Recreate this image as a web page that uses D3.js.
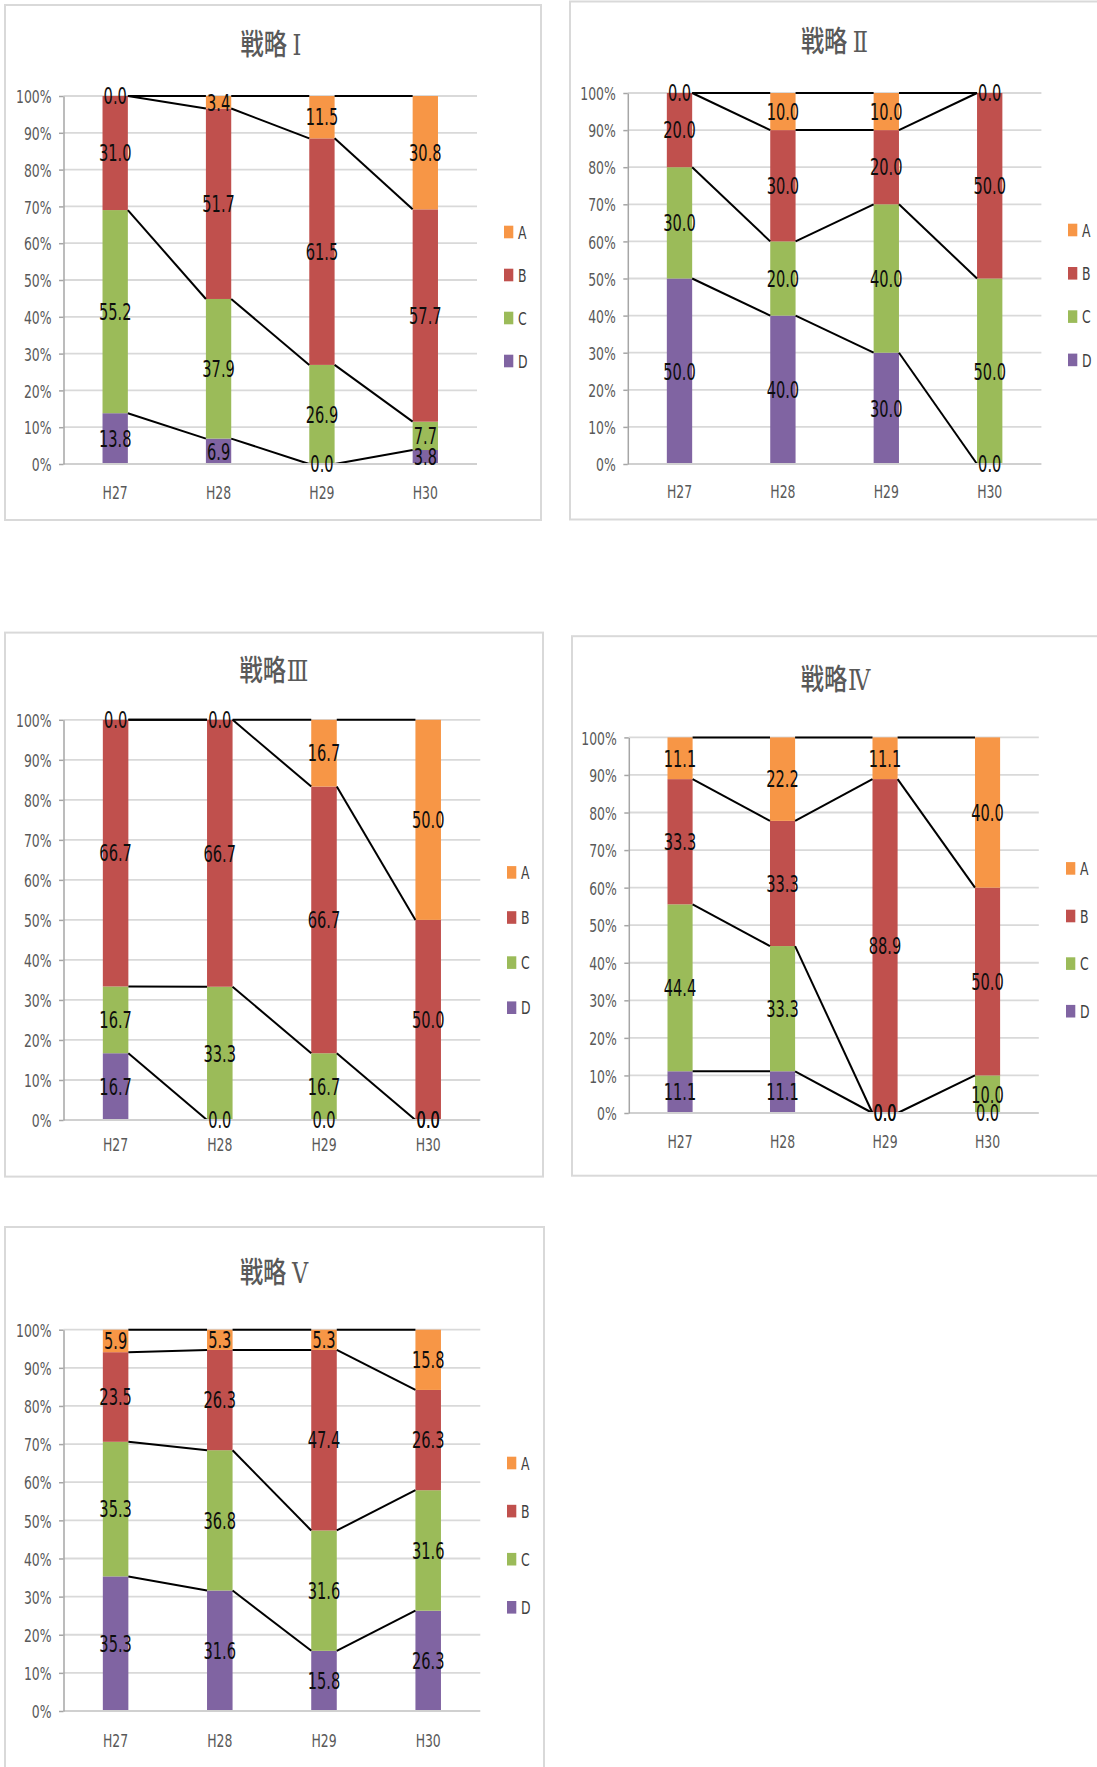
<!DOCTYPE html>
<html lang="ja">
<head>
<meta charset="utf-8">
<script src="https://cdn.jsdelivr.net/npm/d3@7"></script>
<style>
  html, body { margin: 0; padding: 0; background: #fff; }
  svg { display: block; }
</style>
</head>
<body>
<script>
// Page size
const width = 1097;
const height = 1767;

// Categories, series and ticks
const years = ["H27", "H28", "H29", "H30"];
const seriesKeys = ["A", "B", "C", "D"];
const chartTitles = ["戦略Ⅰ", "戦略Ⅱ", "戦略Ⅲ", "戦略Ⅳ", "戦略Ⅴ"];
const yTicks = [0, 0.1, 0.2, 0.3, 0.4, 0.5, 0.6, 0.7, 0.8, 0.9, 1];

// 戦略Ⅰ
const s1A = [0.0, 3.4, 11.5, 30.8];
const s1B = [31.0, 51.7, 61.5, 57.7];
const s1C = [55.2, 37.9, 26.9, 7.7];
const s1D = [13.8, 6.9, 0.0, 3.8];
// 戦略Ⅱ
const s2A = [0.0, 10.0, 10.0, 0.0];
const s2B = [20.0, 30.0, 20.0, 50.0];
const s2C = [30.0, 20.0, 40.0, 50.0];
const s2D = [50.0, 40.0, 30.0, 0.0];
// 戦略Ⅲ
const s3A = [0.0, 0.0, 16.7, 50.0];
const s3B = [66.7, 66.7, 66.7, 50.0];
const s3C = [16.7, 33.3, 16.7, 0.0];
const s3D = [16.7, 0.0, 0.0, 0.0];
// 戦略Ⅳ
const s4A = [11.1, 22.2, 11.1, 40.0];
const s4B = [33.3, 33.3, 88.9, 50.0];
const s4C = [44.4, 33.3, 0.0, 10.0];
const s4D = [11.1, 11.1, 0.0, 0.0];
// 戦略Ⅴ
const s5A = [5.9, 5.3, 5.3, 15.8];
const s5B = [23.5, 26.3, 47.4, 26.3];
const s5C = [35.3, 36.8, 31.6, 31.6];
const s5D = [35.3, 31.6, 15.8, 26.3];

const colors = { A: "#F79646", B: "#C0504D", C: "#9BBB59", D: "#8064A2" };

// Panel placement (box, plot area, title centre, legend, x label line)
const panels = [
  { title: chartTitles[0], series: { A: s1A, B: s1B, C: s1C, D: s1D },
    box: [5, 5, 536, 515], plot: [63.5, 96, 477, 464], titleXY: [271, 43.5],
    legend: [504, 232, 43], xLabelY: 492.5 },
  { title: chartTitles[1], series: { A: s2A, B: s2B, C: s2C, D: s2D },
    box: [570, 1.5, 540, 518], plot: [627.8, 93, 1041.4, 464], titleXY: [834.5, 40.5],
    legend: [1068, 230, 43.3], xLabelY: 491.5 },
  { title: chartTitles[2], series: { A: s3A, B: s3B, C: s3C, D: s3D },
    box: [5, 632.6, 538, 544], plot: [63.5, 719.8, 480.3, 1120], titleXY: [274, 670],
    legend: [507, 872.4, 45.1], xLabelY: 1144.5 },
  { title: chartTitles[3], series: { A: s4A, B: s4B, C: s4C, D: s4D },
    box: [572, 636.2, 540, 539.5], plot: [628.8, 737.4, 1038.8, 1113], titleXY: [835.5, 679],
    legend: [1066, 868.4, 47.6], xLabelY: 1141.5 },
  { title: chartTitles[4], series: { A: s5A, B: s5B, C: s5C, D: s5D },
    box: [5, 1227, 539, 600], plot: [63.5, 1329.7, 480.3, 1711], titleXY: [274, 1271.5],
    legend: [507, 1463, 48.1], xLabelY: 1740.5 }
];

const narrow = "'Liberation Sans Narrow', 'DejaVu Sans Condensed', sans-serif";

const svg = d3
  .select("body")
  .append("svg")
  .attr("width", width)
  .attr("height", height);

svg.append("rect").attr("width", width).attr("height", height).attr("fill", "#fff");

// Measure the font actually used so the squeezed text keeps the reference widths
function squeezeFor(sample, size, target) {
  const t = svg
    .append("text")
    .attr("font-family", narrow)
    .attr("font-size", size)
    .text(sample);
  const w = t.node().getComputedTextLength();
  t.remove();
  return w > 0 ? target / w : 0.8;
}
const tickSqueeze = squeezeFor("100%", 18.5, 35.5);
const labelSqueeze = squeezeFor("31.0", 23, 32.5);

function drawChart(p) {
  const g = svg.append("g");
  const [x0, y0, x1, y1] = p.plot;

  // Chart frame
  g.append("rect")
    .attr("x", p.box[0])
    .attr("y", p.box[1])
    .attr("width", p.box[2])
    .attr("height", p.box[3])
    .attr("fill", "#fff")
    .attr("stroke", "#d9d9d9")
    .attr("stroke-width", 2);

  // Title: kanji in Noto CJK, roman numeral with serifs
  const title = g
    .append("text")
    .attr("transform", `translate(${p.titleXY[0]},${p.titleXY[1]}) scale(0.8,1)`)
    .attr("dy", "0.38em")
    .attr("text-anchor", "middle")
    .attr("font-family", "'Noto Sans CJK JP', sans-serif")
    .attr("font-weight", 500)
    .attr("font-size", 29)
    .attr("fill", "#595959");
  title.append("tspan").text(p.title.slice(0, 2));
  title
    .append("tspan")
    .attr("font-family", "'DejaVu Serif', 'Noto Sans CJK JP', serif")
    .attr("font-weight", 400)
    .attr("font-size", 28)
    .attr("dx", /[ⅠⅡⅤ]/.test(p.title) ? 7 : 1)
    .text(p.title.slice(2));

  const x = d3
    .scaleBand()
    .domain(years)
    .range([x0, x1])
    .paddingInner(0.755)
    .paddingOuter(0.3775);

  const y = d3.scaleLinear().domain([0, 1]).range([y1, y0]);

  // Gridlines
  g.append("g")
    .selectAll("line")
    .data(yTicks.filter((t) => t > 0))
    .join("line")
    .attr("x1", x0)
    .attr("x2", x1)
    .attr("y1", (d) => y(d))
    .attr("y2", (d) => y(d))
    .attr("stroke", "#d9d9d9")
    .attr("stroke-width", 1.8);

  // Build the 100% stacked table
  const rows = years.map((yr, i) => {
    const r = { year: yr };
    seriesKeys.forEach((k) => (r[k] = p.series[k][i]));
    return r;
  });
  const layers = d3
    .stack()
    .keys(["D", "C", "B", "A"])
    .offset(d3.stackOffsetExpand)(rows);

  // Bars
  g.append("g")
    .selectAll("g")
    .data(layers)
    .join("g")
    .attr("fill", (d) => colors[d.key])
    .selectAll("rect")
    .data((d) => d)
    .join("rect")
    .attr("x", (d) => x(d.data.year))
    .attr("y", (d) => y(d[1]))
    .attr("width", x.bandwidth())
    .attr("height", (d) => y(d[0]) - y(d[1]));

  // Series lines between neighbouring bars
  const links = [];
  layers.forEach((layer) => {
    for (let i = 0; i < layer.length - 1; i++) {
      links.push({
        xa: x(years[i]) + x.bandwidth(),
        ya: y(layer[i][1]),
        xb: x(years[i + 1]),
        yb: y(layer[i + 1][1])
      });
    }
  });
  g.append("g")
    .selectAll("line")
    .data(links)
    .join("line")
    .attr("x1", (d) => d.xa)
    .attr("y1", (d) => d.ya)
    .attr("x2", (d) => d.xb)
    .attr("y2", (d) => d.yb)
    .attr("stroke", "#000")
    .attr("stroke-width", 2);

  // Bottom axis line (0%)
  g.append("line")
    .attr("x1", x0)
    .attr("x2", x1)
    .attr("y1", y(0))
    .attr("y2", y(0))
    .attr("stroke", "#d0d0d0")
    .attr("stroke-width", 1.8);

  // Left axis
  const yAxis = g
    .append("g")
    .attr("transform", `translate(${x0},0)`)
    .call(
      d3
        .axisLeft(y)
        .tickValues(yTicks)
        .tickFormat(d3.format(".0%"))
        .tickSize(4.5)
        .tickSizeOuter(0)
    );
  yAxis.select(".domain").attr("stroke", "#a6a6a6").attr("stroke-width", 1.5);
  yAxis.selectAll(".tick line").attr("stroke", "#a6a6a6").attr("stroke-width", 1.5);
  yAxis
    .selectAll(".tick text")
    .attr("x", null)
    .attr("dy", "0.36em")
    .attr("transform", `translate(-12,0) scale(${tickSqueeze},1)`)
    .attr("font-family", narrow)
    .attr("font-size", 18.5)
    .attr("fill", "#595959");

  // Category labels
  g.append("g")
    .selectAll("text")
    .data(years)
    .join("text")
    .attr("transform", (d) => `translate(${x(d) + x.bandwidth() / 2},${p.xLabelY}) scale(${tickSqueeze},1)`)
    .attr("dy", "0.36em")
    .attr("text-anchor", "middle")
    .attr("font-family", narrow)
    .attr("font-size", 18.5)
    .attr("fill", "#595959")
    .text((d) => d);

  // Data labels
  g.append("g")
    .selectAll("g")
    .data(layers)
    .join("g")
    .selectAll("text")
    .data((layer) => layer.map((d, i) => ({ d, v: p.series[layer.key][i] })))
    .join("text")
    .attr(
      "transform",
      (e) => `translate(${x(e.d.data.year) + x.bandwidth() / 2},${y((e.d[0] + e.d[1]) / 2)}) scale(${labelSqueeze},1)`
    )
    .attr("dy", "0.36em")
    .attr("text-anchor", "middle")
    .attr("font-family", narrow)
    .attr("font-size", 23)
    .attr("fill", "#0d0d0d")
    .text((e) => e.v.toFixed(1));

  // Legend
  const [lx, ly, step] = p.legend;
  const leg = g
    .append("g")
    .selectAll("g")
    .data(seriesKeys)
    .join("g")
    .attr("transform", (d, i) => `translate(${lx},${ly + i * step})`);
  leg
    .append("rect")
    .attr("x", 0)
    .attr("y", -6.3)
    .attr("width", 9.3)
    .attr("height", 12.6)
    .attr("fill", (d) => colors[d]);
  leg
    .append("text")
    .attr("transform", `translate(14,0) scale(${tickSqueeze},1)`)
    .attr("dy", "0.36em")
    .attr("font-family", narrow)
    .attr("font-size", 18.5)
    .attr("fill", "#404040")
    .text((d) => d);
}

panels.forEach(drawChart);
</script>
</body>
</html>
